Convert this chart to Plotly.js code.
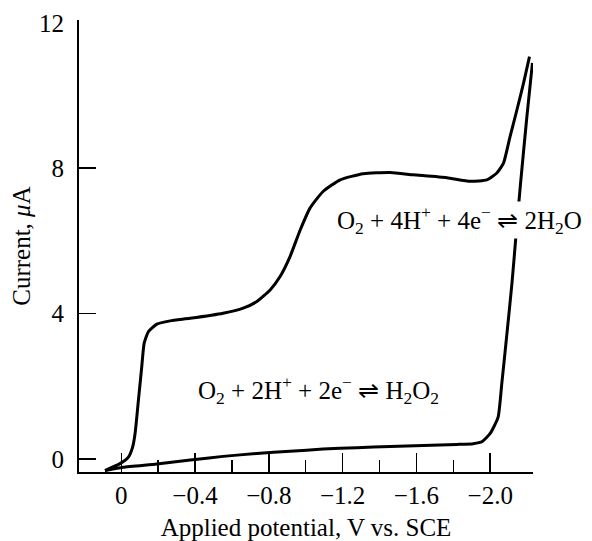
<!DOCTYPE html>
<html>
<head>
<meta charset="utf-8">
<script src="https://cdn.plot.ly/plotly-3.0.1.min.js"></script>
<style>html,body{margin:0;padding:0;background:#fff;}</style>
</head>
<body>
<div id="chart" style="width:592px;height:541px;"></div>
<script>
// O2-saturated solution (upper polarogram)
const o2Potential = [0.088, 0.007, -0.039, -0.062, -0.075, -0.093, -0.111, -0.124, -0.147, -0.193, -0.265, -0.373, -0.552, -0.661, -0.735, -0.807, -0.861, -0.915, -0.970, -1.024, -1.094, -1.187, -1.311, -1.458, -1.582, -1.765, -1.892, -1.982, -2.036, -2.072, -2.108, -2.145, -2.181, -2.213];
const o2Current   = [-0.32, -0.13, 0.05, 0.33, 0.70, 1.61, 2.53, 3.18, 3.50, 3.71, 3.80, 3.87, 4.01, 4.15, 4.33, 4.65, 5.02, 5.57, 6.30, 6.91, 7.36, 7.68, 7.85, 7.88, 7.82, 7.74, 7.64, 7.68, 7.87, 8.14, 8.88, 9.61, 10.35, 11.07];
// Background (lower curve)
const bgPotential = [0.088, -0.010, -0.193, -0.374, -0.552, -0.735, -0.915, -1.094, -1.277, -1.458, -1.637, -1.819, -1.908, -1.957, -2.000, -2.043, -2.063, -2.091, -2.118, -2.141, -2.163, -2.199, -2.229];
const bgCurrent   = [-0.32, -0.23, -0.14, -0.03, 0.07, 0.15, 0.21, 0.27, 0.31, 0.34, 0.37, 0.40, 0.42, 0.48, 0.70, 1.15, 2.08, 3.46, 4.84, 6.22, 7.50, 9.43, 10.90];

const xTickVals = [0, -0.4, -0.8, -1.2, -1.6, -2.0];
const xTickText = ['0', '\u22120.4', '\u22120.8', '\u22121.2', '\u22121.6', '\u22122.0'];
const xMinorTicks = [-0.2, -0.6, -1.0, -1.4, -1.8];
const yTickVals = [0, 4, 8, 12];
const yTickMarks = [0, 4, 8];

const reactionLabels = [
  'O<sub>2</sub> + 4H<sup>+</sup> + 4e<sup>\u2212</sup> \u21CC 2H<sub>2</sub>O',
  'O<sub>2</sub> + 2H<sup>+</sup> + 2e<sup>\u2212</sup> \u21CC H<sub>2</sub>O<sub>2</sub>'
];
const labelX = [-1.832, -1.070];
const labelY = [6.58, 1.90];

const FONT = 'Liberation Serif, Times New Roman, serif';
const FS = 25;

const lineStyle = {color: '#000', width: 3, shape: 'spline', smoothing: 0.5};
const traces = [
  {x: o2Potential, y: o2Current, mode: 'lines', line: lineStyle, hoverinfo: 'skip'},
  {x: bgPotential, y: bgCurrent, mode: 'lines', line: lineStyle, hoverinfo: 'skip'}
];

const layout = {
  width: 592, height: 541,
  margin: {l: 79, r: 59, t: 20, b: 69},
  paper_bgcolor: '#fff', plot_bgcolor: '#fff',
  showlegend: false,
  font: {family: FONT, size: FS, color: '#000'},
  xaxis: {
    range: [0.229, -2.232],
    tickvals: xTickVals, ticktext: xTickText,
    ticks: 'inside', ticklen: 19, tickwidth: 1.5, tickcolor: '#000',
    minor: {tickvals: xMinorTicks, ticks: 'inside', ticklen: 12, tickwidth: 1.5, tickcolor: '#000', showgrid: false},
    showline: true, linecolor: '#000', linewidth: 2,
    showgrid: false, zeroline: false,
    tickfont: {family: FONT, size: FS, color: '#000'},
    title: {text: 'Applied potential, V vs. SCE', font: {family: FONT, size: FS, color: '#000'}, standoff: 13}
  },
  yaxis: {
    range: [-0.36, 12.08],
    tickvals: yTickVals,
    ticks: 'inside', ticklen: 0, tickwidth: 0, tickcolor: 'rgba(0,0,0,0)',
    minor: {tickvals: yTickMarks, ticks: 'inside', ticklen: 17, tickwidth: 1.5, tickcolor: '#000', showgrid: false},
    showline: true, linecolor: '#000', linewidth: 2,
    showgrid: false, zeroline: false,
    tickfont: {family: FONT, size: FS, color: '#000'},
    ticklabelstandoff: 8,
    title: {text: 'Current, <i>\u03BC</i>A', font: {family: FONT, size: FS, color: '#000'}, standoff: 1}
  },
  annotations: reactionLabels.map((t, i) => ({
    x: labelX[i], y: labelY[i], xref: 'x', yref: 'y',
    text: t, showarrow: false, bgcolor: '#fff', borderpad: 0,
    font: {family: FONT, size: FS, color: '#000'}
  }))
};

Plotly.newPlot('chart', traces, layout, {displayModeBar: false, staticPlot: true});
</script>
</body>
</html>
